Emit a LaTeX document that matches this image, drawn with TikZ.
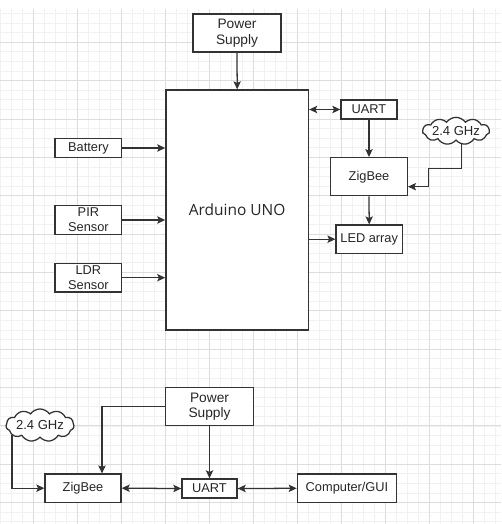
\documentclass[tikz,border=0pt]{standalone}
\usepackage{fontspec}
\setmainfont{Liberation Sans}
\newfontfamily\ardfont{Open Sans}
\usepackage{tikz}
\usetikzlibrary{arrows.meta,shapes.symbols}

\definecolor{gridmajor}{HTML}{DDDDDD}
\definecolor{gridminor}{HTML}{F1F1F1}
\definecolor{linegray}{HTML}{333333}
\definecolor{textgray}{HTML}{262626}

\tikzset{
  block/.style={draw=linegray, line width=0.95pt, fill=white, text=textgray,
    align=center, inner sep=0pt, font=\fontsize{9.6}{11.3}\selectfont},
  powerbox/.style={block, font=\fontsize{10.3}{11.6}\selectfont},
  radio/.style={cloud, cloud puffs=11, cloud puff arc=110, cloud ignores aspect,
    draw=linegray, line width=0.95pt, fill=white, text=textgray, inner sep=0pt,
    font=\fontsize{9.8}{11}\selectfont},
  arr/.style={draw=linegray, line width=0.95pt, -{Stealth[length=6pt,width=5.5pt,inset=1.2pt]}},
  darr/.style={draw=linegray, line width=0.95pt, {Stealth[length=6pt,width=5.5pt,inset=1.2pt]}-{Stealth[length=6pt,width=5.5pt,inset=1.2pt]}}
}

\begin{document}
\begin{tikzpicture}[x=0.75pt, y=-0.75pt]
\useasboundingbox (0,0) rectangle (501,524);
\fill[white] (0,0) rectangle (501,524);
% grid
\foreach \k in {0,...,45}
  \draw[gridminor, line width=0.6pt] (0.3+11*\k,9) -- (0.3+11*\k,524);
\foreach \j in {-3,...,50}
  \draw[gridminor, line width=0.6pt] (0,42.3+9.59*\j) -- (501,42.3+9.59*\j);
\foreach \k in {0,...,11}
  \draw[gridmajor, line width=0.7pt] (33.3+44*\k,9) -- (33.3+44*\k,524);
\foreach \j in {0,...,12}
  \draw[gridmajor, line width=0.7pt] (0,42.3+38.35*\j) -- (501,42.3+38.35*\j);

% sensor node
\node[powerbox, minimum width=66pt, minimum height=28.5pt] (ps1) at (237,33) {Power\\Supply};
\node[block, minimum width=107pt, minimum height=180pt, font=\ardfont\fontsize{11.6}{13}\selectfont] (ard) at (237.2,210) {Arduino UNO};
\node[block, minimum width=42pt, minimum height=14.3pt] (uart1) at (369,109.5) {UART};
\node[block, minimum width=57.5pt, minimum height=28.5pt] (zig1) at (369,176.7) {ZigBee};
\node[radio, minimum width=50pt, minimum height=20.5pt] (cloud1) at (456,131) {2.4 GHz};
\node[block, minimum width=49.7pt, minimum height=21.2pt] (led) at (369.2,239.2) {LED array};
\node[block, minimum width=50pt, minimum height=14.5pt] (bat) at (88.4,148) {Battery};
\node[block, minimum width=50pt, minimum height=21.5pt] (pir) at (88.4,220) {PIR\\Sensor};
\node[block, minimum width=50pt, minimum height=21.5pt] (ldr) at (88.4,277.7) {LDR\\Sensor};

\draw[arr] (ps1.south) -- (ard.north);
\draw[darr] (uart1.west -| ard.east) -- (uart1.west);
\draw[arr] (uart1.south) -- (zig1.north);
\coordinate (bend1) at (428.3,168.3);
\draw[arr] (cloud1.293) |- (bend1) |- ([yshift=-7.5pt]zig1.east);
\draw[arr] (zig1.south) -- (led.north);
\draw[arr] (led.west -| ard.east) -- (led.west);
\draw[arr] (bat.east) -- (bat.east -| ard.west);
\draw[arr] (pir.east) -- (pir.east -| ard.west);
\draw[arr] (ldr.east) -- (ldr.east -| ard.west);

% base station
\node[powerbox, minimum width=65.7pt, minimum height=28.5pt] (ps2) at (209.5,406.7) {Power\\Supply};
\node[block, minimum width=57pt, minimum height=21.2pt] (zig2) at (83,488.2) {ZigBee};
\node[block, minimum width=41.3pt, minimum height=14.3pt] (uart2) at (209.5,488.5) {UART};
\node[block, minimum width=74.5pt, minimum height=21.5pt] (comp) at (347,488.3) {Computer/GUI};
\node[radio, minimum width=51pt, minimum height=24.5pt] (cloud2) at (40,425.3) {2.4 GHz};

\draw[arr] (ps2.west) -| ([xshift=14.25pt]zig2.north);
\draw[arr] (ps2.south) -- (uart2.north);
\draw[darr] (zig2.east) -- (uart2.west);
\draw[darr] (uart2.east) -- (comp.west);
\draw[arr] (cloud2.200) |- (zig2.west);
\end{tikzpicture}
\end{document}
